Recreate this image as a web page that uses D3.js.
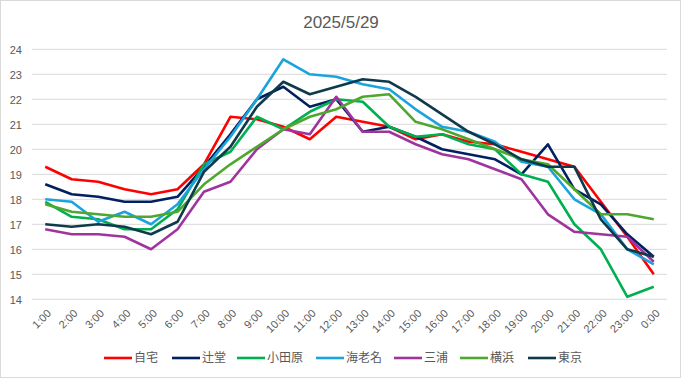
<!DOCTYPE html>
<html>
<head>
    <meta charset="UTF-8">
    <title>2025/5/29</title>
    <script src="https://cdn.jsdelivr.net/npm/d3@7"></script>
    <style>
        body { margin: 0; background: #fff; }
        text { fill: #595959; font-family: "Liberation Sans", "Noto Sans CJK JP", sans-serif; }
    </style>
</head>
<body>
<svg id="chart" width="681" height="378"></svg>
<script>
    var hours = ["1:00", "2:00", "3:00", "4:00", "5:00", "6:00", "7:00", "8:00", "9:00", "10:00", "11:00", "12:00",
        "13:00", "14:00", "15:00", "16:00", "17:00", "18:00", "19:00", "20:00", "21:00", "22:00", "23:00", "0:00"];
    var yTicks = [14, 15, 16, 17, 18, 19, 20, 21, 22, 23, 24];

    var names = ["自宅", "辻堂", "小田原", "海老名", "三浦", "横浜", "東京"];
    var colors = ["#ff0000", "#002060", "#00b050", "#1aa3dc", "#a0349e", "#4ea72e", "#0e3a4c"];

    var jitaku = [19.3, 18.8, 18.7, 18.4, 18.2, 18.4, 19.4, 21.3, 21.2, 20.9, 20.4, 21.3, 21.1, 20.9, 20.4, 20.6, 20.3, 20.2, 19.9, 19.6, 19.3, 17.9, 16.5, 15.0];
    var tsujido = [18.6, 18.2, 18.1, 17.9, 17.9, 18.1, 19.3, 20.6, 22.0, 22.5, 21.7, 22.0, 20.7, 20.9, 20.5, 20.0, 19.8, 19.6, 19.0, 20.2, 18.4, 17.8, 16.6, 15.7];
    var odawara = [17.9, 17.3, 17.2, 16.8, 16.8, 17.6, 19.4, 19.9, 21.3, 20.8, 21.5, 22.0, 21.9, 20.9, 20.5, 20.6, 20.2, 20.0, 19.0, 18.7, 17.0, 16.0, 14.1, 14.5];
    var ebina = [18.0, 17.9, 17.1, 17.5, 17.0, 17.8, 19.2, 20.5, 22.0, 23.6, 23.0, 22.9, 22.6, 22.4, 21.6, 20.9, 20.7, 20.3, 19.5, 19.3, 18.0, 17.4, 16.0, 15.4];
    var miura = [16.8, 16.6, 16.6, 16.5, 16.0, 16.8, 18.3, 18.7, 20.0, 20.8, 20.6, 22.1, 20.7, 20.7, 20.2, 19.8, 19.6, 19.2, 18.8, 17.4, 16.7, 16.6, 16.5, 15.5];
    var yokohama = [17.8, 17.5, 17.4, 17.3, 17.3, 17.5, 18.6, 19.4, 20.1, 20.8, 21.3, 21.6, 22.1, 22.2, 21.1, 20.8, 20.4, 20.0, 19.6, 19.4, 18.4, 17.4, 17.4, 17.2];
    var tokyo = [17.0, 16.9, 17.0, 16.9, 16.6, 17.1, 19.1, 20.1, 21.7, 22.7, 22.2, 22.5, 22.8, 22.7, 22.1, 21.4, 20.7, 20.2, 19.6, 19.3, 19.3, 17.2, 16.0, 15.7];

    var series = [jitaku, tsujido, odawara, ebina, miura, yokohama, tokyo];

    var svg = d3.select("#chart");
    var plotLeft = 32, plotRight = 667, plotTop = 49.3, plotBottom = 299.3;

    // chart frame
    svg.append("rect")
        .attr("x", 0.5).attr("y", 0.5)
        .attr("width", 680).attr("height", 377)
        .attr("fill", "#fff")
        .attr("stroke", "#d9d9d9");

    svg.append("text")
        .attr("x", 341).attr("y", 28)
        .attr("text-anchor", "middle")
        .style("font-size", "17px")
        .text("2025/5/29");

    var x = d3.scalePoint().domain(hours).range([plotLeft, plotRight]).padding(0.5);
    var y = d3.scaleLinear().domain([14, 24]).range([plotBottom, plotTop]);

    // grid lines
    svg.append("g").selectAll("line")
        .data(yTicks)
        .enter().append("line")
        .attr("x1", plotLeft).attr("x2", plotRight)
        .attr("y1", function (d) { return y(d); })
        .attr("y2", function (d) { return y(d); })
        .attr("stroke", "#d9d9d9")
        .attr("stroke-width", 1);

    // y axis labels
    var yAxis = svg.append("g")
        .attr("transform", "translate(" + (plotLeft - 10) + ",0)")
        .call(d3.axisLeft(y).tickValues(yTicks).tickSize(0).tickPadding(0));
    yAxis.select(".domain").remove();
    yAxis.selectAll("text")
        .attr("dy", "0.35em")
        .style("font-size", "11px");

    // x axis labels (rotated)
    svg.append("g").selectAll("text")
        .data(hours)
        .enter().append("text")
        .attr("transform", function (d) {
            return "translate(" + (x(d) + 4) + "," + (plotBottom + 12) + ") rotate(-45)";
        })
        .attr("text-anchor", "end")
        .attr("dy", "0.35em")
        .style("font-size", "11px")
        .text(function (d) { return d; });

    var line = d3.line()
        .x(function (d, i) { return x(hours[i]); })
        .y(function (d) { return y(d); });

    svg.append("g").selectAll("path")
        .data(series)
        .enter().append("path")
        .attr("d", line)
        .attr("fill", "none")
        .attr("stroke", function (d, i) { return colors[i]; })
        .attr("stroke-width", 2.6)
        .attr("stroke-linejoin", "round");

    // legend
    var legendX = [104, 172, 237, 316, 394, 460, 528];
    var legend = svg.append("g").selectAll("g")
        .data(names)
        .enter().append("g")
        .attr("transform", function (d, i) { return "translate(" + legendX[i] + ",358)"; });
    legend.append("line")
        .attr("x1", 0).attr("x2", 28)
        .attr("stroke", function (d, i) { return colors[i]; })
        .attr("stroke-width", 2.6);
    legend.append("text")
        .attr("x", 30)
        .attr("dy", "0.35em")
        .style("font-size", "12px")
        .text(function (d) { return d; });
</script>
</body>
</html>
